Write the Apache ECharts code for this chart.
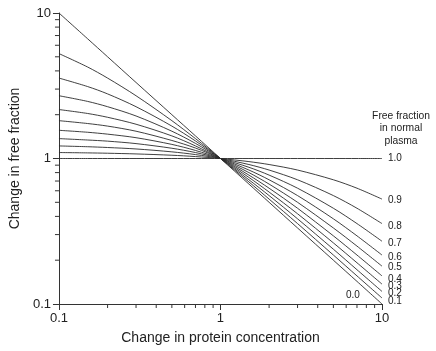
<!DOCTYPE html>
<html>
<head>
<meta charset="utf-8">
<script src="https://cdn.jsdelivr.net/npm/echarts@6/dist/echarts.min.js"></script>
<style>
html,body{margin:0;padding:0;background:#fff;}
#chart{width:436px;height:351px;}
</style>
</head>
<body>
<div id="chart"></div>
<script>
// Change in protein concentration (x samples)
const proteinChange = [0.1, 0.15, 0.2, 0.3, 0.5, 0.7, 1, 1.5, 2, 3, 5, 7, 10];
// Free fraction in normal plasma (curve names)
const fractionNames = ['0.0','0.1','0.2','0.3','0.4','0.5','0.6','0.7','0.8','0.9','1.0'];
// Change in free fraction, one array per curve
const f00 = [10, 6.67, 5, 3.33, 2, 1.43, 1, 0.667, 0.5, 0.333, 0.2, 0.143, 0.1];
const f01 = [5.26, 4.26, 3.57, 2.70, 1.82, 1.37, 1, 0.690, 0.526, 0.357, 0.217, 0.156, 0.110];
const f02 = [3.57, 3.125, 2.78, 2.27, 1.67, 1.32, 1, 0.714, 0.556, 0.385, 0.238, 0.172, 0.122];
const f03 = [2.70, 2.47, 2.27, 1.96, 1.54, 1.27, 1, 0.741, 0.588, 0.417, 0.263, 0.192, 0.137];
const f04 = [2.17, 2.04, 1.92, 1.72, 1.43, 1.22, 1, 0.769, 0.625, 0.455, 0.294, 0.217, 0.156];
const f05 = [1.82, 1.74, 1.67, 1.54, 1.33, 1.18, 1, 0.8, 0.667, 0.5, 0.333, 0.25, 0.182];
const f06 = [1.5625, 1.515, 1.47, 1.39, 1.25, 1.136, 1, 0.833, 0.714, 0.556, 0.385, 0.294, 0.217];
const f07 = [1.37, 1.34, 1.316, 1.266, 1.176, 1.099, 1, 0.870, 0.769, 0.625, 0.455, 0.357, 0.270];
const f08 = [1.22, 1.205, 1.19, 1.163, 1.111, 1.064, 1, 0.909, 0.833, 0.714, 0.556, 0.455, 0.357];
const f09 = [1.099, 1.093, 1.087, 1.075, 1.053, 1.031, 1, 0.952, 0.909, 0.833, 0.714, 0.625, 0.526];
const f10 = [1, 1, 1, 1, 1, 1, 1, 1, 1, 1, 1, 1, 1];
const curves = [f00, f01, f02, f03, f04, f05, f06, f07, f08, f09, f10];
// Tick labels / minor tick positions
const majorTicks = [0.1, 1, 10];
const minorTicks = [0.2,0.3,0.4,0.5,0.6,0.7,0.8,0.9,2,3,4,5,6,7,8,9];
const legendTitle = ['Free fraction', 'in normal', 'plasma'];

// label style offsets (style, not data)
const labelOffsets = [[-38,-9],[4,3],[4,2],[4,2],[4,3],[4,1],[4,2],[4,2],[4,3],[4,1],[4,0]];

const font = 'Liberation Sans, Arial, Helvetica, sans-serif';
const ink = '#222';

const chart = echarts.init(document.getElementById('chart'), null, {renderer:'canvas'});

const lineSeries = curves.map((vals, i) => ({
  type: 'line',
  name: fractionNames[i],
  data: proteinChange.map((x, j) => [x, vals[j]]),
  showSymbol: false,
  smooth: 0.3,
  lineStyle: {color: '#2a2a2a', width: 0.9},
  silent: true,
  animation: false,
  z: 3,
  endLabel: {
    show: true,
    formatter: fractionNames[i],
    color: ink,
    fontFamily: font,
    fontSize: 10,
    distance: 2,
    offset: labelOffsets[i]
  }
}));

function tickSeries(isX) {
  return {
    type: 'custom',
    silent: true,
    animation: false,
    clip: false,
    data: minorTicks.map(v => isX ? [v, 0.1] : [0.1, v]),
    renderItem: function (params, api) {
      const p = api.coord([api.value(0), api.value(1)]);
      const shape = isX
        ? {x1: p[0], y1: p[1], x2: p[0], y2: p[1] + 4}
        : {x1: p[0] - 4, y1: p[1], x2: p[0], y2: p[1]};
      return {type: 'line', shape: shape, style: {stroke: '#333', lineWidth: 1}};
    }
  };
}

chart.setOption({
  animation: false,
  backgroundColor: '#fff',
  textStyle: {fontFamily: font},
  graphic: legendTitle.map((t, i) => ({
    type: 'text',
    x: 401,
    y: 111 + i * 12.5,
    silent: true,
    style: {
      text: t,
      fill: ink,
      font: '10.3px ' + font,
      align: 'center',
      verticalAlign: 'top'
    }
  })),
  grid: {left: 54, right: 54, top: 13, bottom: 47, containLabel: false},
  xAxis: {
    type: 'log',
    logBase: 10,
    min: 0.1,
    max: 10,
    name: 'Change in protein concentration',
    nameLocation: 'middle',
    nameGap: 27,
    nameTextStyle: {fontSize: 14, color: ink, fontFamily: font},
    axisLine: {show: true, lineStyle: {color: '#333', width: 1}},
    axisTick: {show: true, length: 6, lineStyle: {color: '#333'}},
    axisLabel: {fontSize: 13, color: ink, margin: 8, fontFamily: font,
      formatter: v => (Math.abs(v - 0.1) < 1e-9 ? '0.1' : String(Math.round(v)))},
    splitLine: {show: false},
    minorTick: {show: false}
  },
  yAxis: {
    type: 'log',
    logBase: 10,
    min: 0.1,
    max: 10,
    name: 'Change in free fraction',
    nameLocation: 'middle',
    nameGap: 32,
    nameTextStyle: {fontSize: 14, color: ink, fontFamily: font},
    axisLine: {show: true, lineStyle: {color: '#333', width: 1}},
    axisTick: {show: true, length: 6, lineStyle: {color: '#333'}},
    axisLabel: {fontSize: 13, color: ink, margin: 8, fontFamily: font,
      formatter: v => (Math.abs(v - 0.1) < 1e-9 ? '0.1' : String(Math.round(v)))},
    splitLine: {show: false},
    minorTick: {show: false}
  },
  series: lineSeries.concat([tickSeries(true), tickSeries(false)])
});
</script>
</body>
</html>
